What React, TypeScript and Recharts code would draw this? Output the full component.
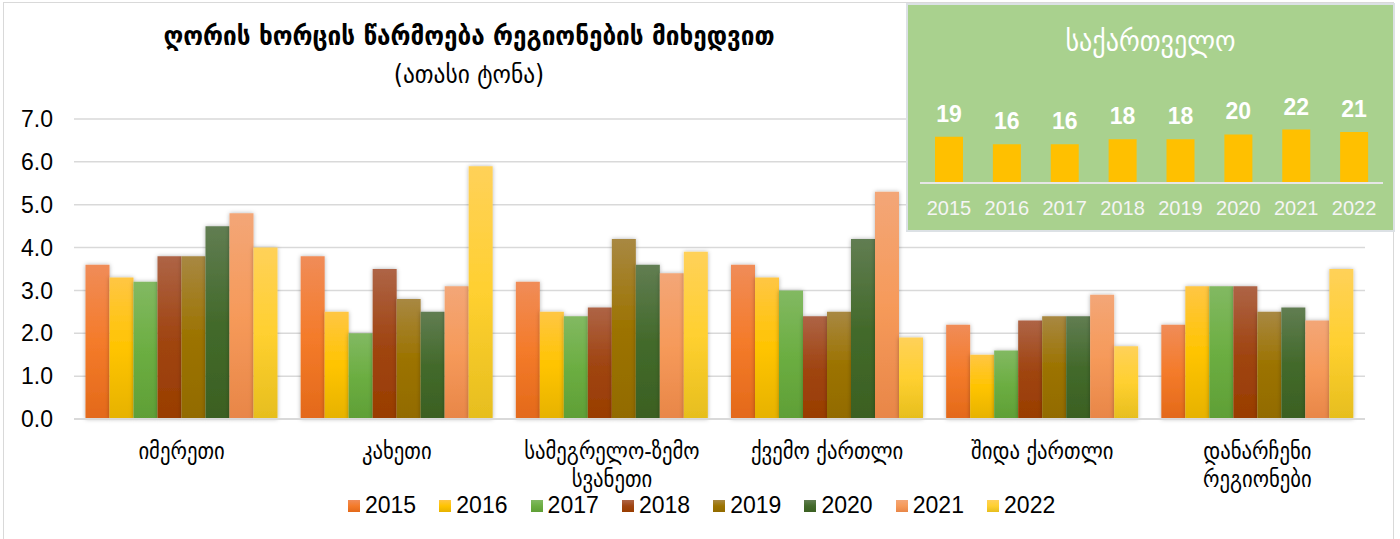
import { BarChart, Bar, XAxis, YAxis, CartesianGrid, LabelList } from 'recharts'

// რეგიონები (x ღერძი)
const regions = [
  'იმერეთი',
  'კახეთი',
  'სამეგრელო-ზემო\nსვანეთი',
  'ქვემო ქართლი',
  'შიდა ქართლი',
  'დანარჩენი\nრეგიონები',
]

const years = ['2015', '2016', '2017', '2018', '2019', '2020', '2021', '2022']

// წარმოება რეგიონების მიხედვით, ათასი ტონა
const v2015 = [3.6, 3.8, 3.2, 3.6, 2.2, 2.2]
const v2016 = [3.3, 2.5, 2.5, 3.3, 1.5, 3.1]
const v2017 = [3.2, 2.0, 2.4, 3.0, 1.6, 3.1]
const v2018 = [3.8, 3.5, 2.6, 2.4, 2.3, 3.1]
const v2019 = [3.8, 2.8, 4.2, 2.5, 2.4, 2.5]
const v2020 = [4.5, 2.5, 3.6, 4.2, 2.4, 2.6]
const v2021 = [4.8, 3.1, 3.4, 5.3, 2.9, 2.3]
const v2022 = [4.0, 5.9, 3.9, 1.9, 1.7, 3.5]

// საქართველო სულ
const georgiaTotal = [19, 16, 16, 18, 18, 20, 22, 21]

const yTicks = [0, 1, 2, 3, 4, 5, 6, 7]

const seriesValues = [v2015, v2016, v2017, v2018, v2019, v2020, v2021, v2022]

// top / middle / bottom of each bar gradient
const palette = [
  ['#F08C58', '#F47B2A', '#E3691A'],
  ['#FFC644', '#FFC400', '#E6B200'],
  ['#82B962', '#6CAE42', '#5F9F36'],
  ['#AE6446', '#A04512', '#993D00'],
  ['#A88842', '#9C7300', '#926B00'],
  ['#617D52', '#436A2B', '#3B6022'],
  ['#F3A677', '#F69A5A', '#E88648'],
  ['#FFD159', '#FFD030', '#E6BE1E'],
]

const chartData = regions.map((region, i) => {
  const row: Record<string, string | number> = { region }
  years.forEach((y, k) => {
    row[y] = seriesValues[k][i]
  })
  return row
})

const totalData = years.map((year, i) => ({ year, total: georgiaTotal[i] }))

const GEO_FONT = '"DejaVu Sans Condensed", "DejaVu Sans", sans-serif'
const NUM_FONT = '"Liberation Sans", Arial, sans-serif'

const RegionTick = ({ x, y, payload }: any) => {
  const lines = String(payload.value).split('\n')
  return (
    <text textAnchor="middle" fontFamily={GEO_FONT} fontSize={23} fill="#000">
      {lines.map((l, i) => (
        <tspan key={i} x={x} y={y + 40 + i * 28}>
          {l}
        </tspan>
      ))}
    </text>
  )
}

export default function App() {
  return (
    <div style={{ position: 'absolute', left: 0, top: 0, width: 1400, height: 539, background: '#fff', overflow: 'hidden' }}>
      {/* chart frame */}
      <div style={{ position: 'absolute', left: 3, top: 2, width: 1389, height: 580, border: '1.5px solid #D9D9D9' }} />

      <div style={{ position: 'absolute', left: 0, top: 0 }}>
        <BarChart
          width={1400}
          height={539}
          data={chartData}
          margin={{ top: 119, right: 35, bottom: 0, left: 0 }}
          barCategoryGap={11.5}
          barGap={0}
        >
          <defs>
            {palette.map((c, i) => (
              <linearGradient key={i} id={`g${i}`} x1="0" y1="0" x2="0" y2="1">
                <stop offset="0%" stopColor={c[0]} />
                <stop offset="50%" stopColor={c[1]} />
                <stop offset="100%" stopColor={c[2]} />
              </linearGradient>
            ))}
            <filter id="bs" x="-30%" y="-10%" width="160%" height="120%">
              <feDropShadow dx="0" dy="0" stdDeviation="2.2" floodColor="#000" floodOpacity="0.3" />
            </filter>
          </defs>
          <CartesianGrid vertical={false} stroke="#D9D9D9" strokeWidth={1.5} />
          <XAxis
            dataKey="region"
            height={120}
            tickLine={false}
            tickSize={0}
            tickMargin={0}
            axisLine={{ stroke: '#D9D9D9', strokeWidth: 2 }}
            tick={<RegionTick />}
            interval={0}
          />
          <YAxis
            domain={[0, 7]}
            ticks={yTicks}
            width={74}
            axisLine={false}
            tickLine={false}
            tickSize={0}
            tickMargin={21}
            tickFormatter={(v: number) => v.toFixed(1)}
            tick={{ fontSize: 23, fill: '#000', fontFamily: NUM_FONT }}
          />
          {years.map((y, i) => (
            <Bar key={y} dataKey={y} fill={`url(#g${i})`} filter="url(#bs)" isAnimationActive={false} />
          ))}
        </BarChart>
      </div>

      {/* title */}
      <div style={{ position: 'absolute', left: 0, top: 20, width: 938, lineHeight: '32px', textAlign: 'center', fontFamily: GEO_FONT, fontWeight: 'bold', fontSize: 27, color: '#000' }}>
        ღორის ხორცის წარმოება რეგიონების მიხედვით
      </div>
      <div style={{ position: 'absolute', left: 0, top: 59, width: 938, lineHeight: '30px', textAlign: 'center', fontFamily: GEO_FONT, fontSize: 26, color: '#000' }}>
        (ათასი ტონა)
      </div>

      {/* legend */}
      <div style={{ position: 'absolute', left: 348, top: 492, display: 'flex', fontFamily: NUM_FONT, fontSize: 23, color: '#000' }}>
        {years.map((y, i) => (
          <div key={y} style={{ display: 'flex', alignItems: 'center', width: 91.3 }}>
            <span
              style={{
                display: 'inline-block',
                width: 12,
                height: 12,
                marginRight: 5,
                background: `linear-gradient(${palette[i][0]}, ${palette[i][1]}, ${palette[i][2]})`,
              }}
            />
            <span>{y}</span>
          </div>
        ))}
      </div>

      {/* Georgia total inset */}
      <div
        style={{
          position: 'absolute',
          left: 906,
          top: 3,
          width: 485,
          height: 225,
          background: '#A9D18E',
          border: '2px solid #DCE1E5',
        }}
      >
        <div style={{ position: 'absolute', left: 0, top: 19, width: 485, lineHeight: '34px', textAlign: 'center', fontFamily: GEO_FONT, fontSize: 29, color: '#fff' }}>
          საქართველო
        </div>
        <div style={{ position: 'absolute', left: 0, top: 0 }}>
          <BarChart
            width={485}
            height={225}
            data={totalData}
            margin={{ top: 93, right: 10, bottom: 0, left: 12 }}
            barSize={28}
          >
            <XAxis
              dataKey="year"
              height={47}
              tickLine={false}
              tickSize={0}
              tickMargin={18}
              axisLine={{ stroke: '#E6E6E6', strokeWidth: 2 }}
              tick={{ fontSize: 20, fill: '#F5F5F5', fontFamily: NUM_FONT }}
              interval={0}
            />
            <YAxis hide domain={[0, 35]} />
            <Bar dataKey="total" fill="#FFC000" isAnimationActive={false}>
              <LabelList dataKey="total" position="top" offset={15} fill="#fff" fontSize={23} fontWeight="bold" fontFamily={NUM_FONT} />
            </Bar>
          </BarChart>
        </div>
      </div>
    </div>
  )
}
